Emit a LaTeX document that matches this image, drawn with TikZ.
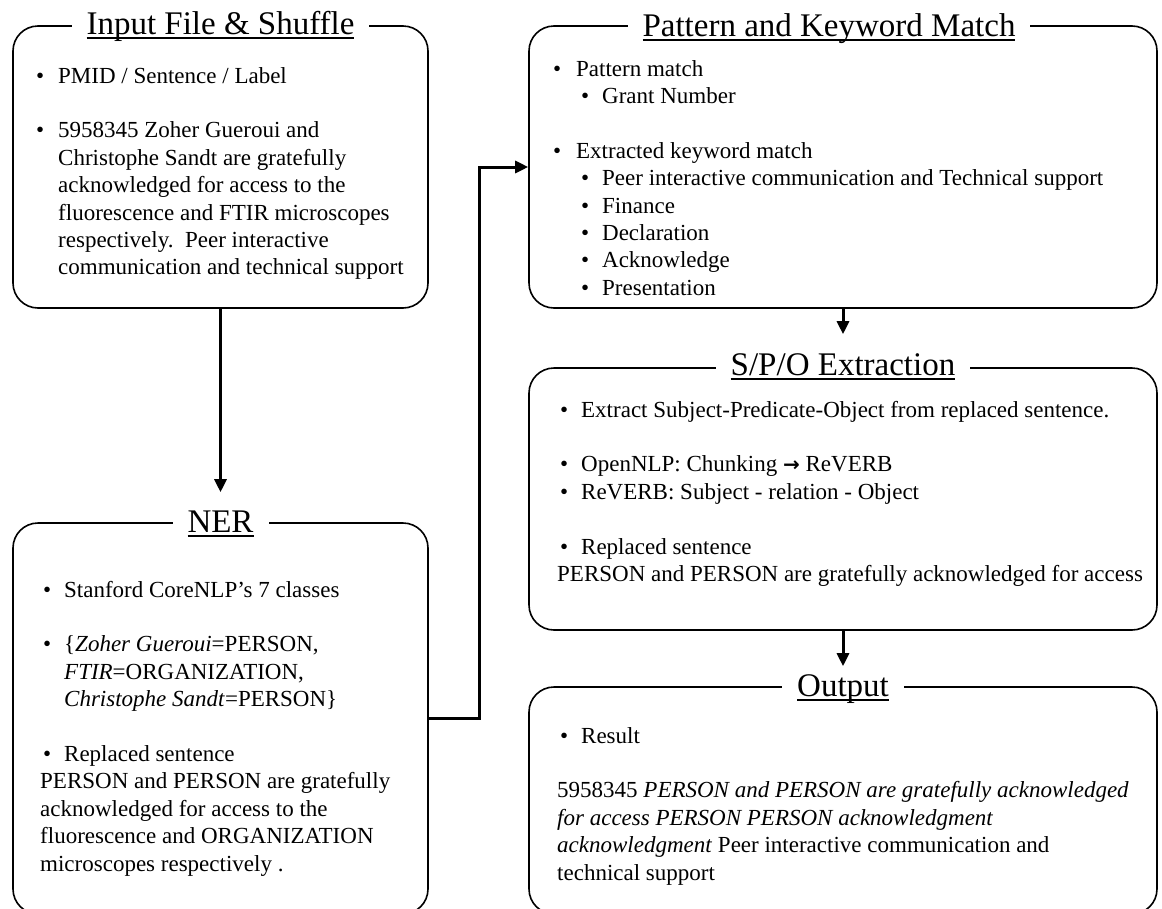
\documentclass[tikz,border=0pt]{standalone}
\usepackage{fontspec}
\setmainfont{Liberation Serif}
\newfontfamily\dvs{DejaVu Sans}
\usetikzlibrary{arrows.meta}
\newcommand\ulttl[1]{\setbox0=\hbox{#1}\rlap{\rule[-4.5pt]{\wd0}{1.6pt}}\box0}
\newcommand\bu[1]{\makebox[#1][l]{\textbullet}}
\newcommand\ind[1]{\hspace*{#1}}
\newcommand\bodytext[1]{\vtop{\hsize=700pt\parindent=0pt\parskip=0pt\leftskip=0pt\rightskip=0pt plus 1fil\fontsize{23}{27.4}\selectfont #1}}
\begin{document}
\begin{tikzpicture}[x=1pt,y=-1pt,
  box/.style={draw, line width=1.6pt, rounded corners=25pt, inner sep=0pt},
  ttl/.style={fill=white, inner xsep=15pt, inner ysep=2pt, anchor=base, font=\fontsize{33}{36}\selectfont},
  txt/.style={anchor=base west, inner sep=0pt},
  arr/.style={line width=3pt, -{Triangle[length=13pt,width=12pt]}}]
\useasboundingbox (0,0) rectangle (1162,908);
\clip (0,0) rectangle (1162,908);
% boxes
\node[box, minimum width=415pt, minimum height=282pt] (inp) at (220.5,167) {};
\node[box, minimum width=415pt, minimum height=391pt] (ner) at (220.5,718.5) {};
\node[box, minimum width=628pt, minimum height=282pt] (pat) at (843,167) {};
\node[box, minimum width=628pt, minimum height=262pt] (spo) at (843,499) {};
\node[box, minimum width=628pt, minimum height=227pt] (out) at (843,800.5) {};
% titles
\node[ttl] (inpt) at ([yshift=-9pt]inp.north) {\ulttl{Input File \& Shuffle}};
\node[ttl] (nert) at ([yshift=-10pt]ner.north) {\ulttl{NER}};
\node[ttl] (patt) at ([xshift=-14pt,yshift=-11pt]pat.north) {\ulttl{Pattern and Keyword Match}};
\node[ttl] (spot) at ([yshift=-8pt]spo.north) {\ulttl{S/P/O Extraction}};
\node[ttl] (outt) at ([yshift=-10pt]out.north) {\ulttl{Output}};
% body texts
\node[txt] (inpb) at (36,83) {\bodytext{%
\bu{22pt}PMID / Sentence / Label\par
\mbox{}\par
\bu{22pt}5958345 Zoher Gueroui and\par
\ind{22pt}Christophe Sandt are gratefully\par
\ind{22pt}acknowledged for access to the\par
\ind{22pt}fluorescence and FTIR microscopes\par
\ind{22pt}respectively.\ \ Peer interactive\par
\ind{22pt}communication and technical support}};
\node[txt] (nerb) at (40,597) {\bodytext{%
\ind{3pt}\bu{21pt}Stanford CoreNLP’s 7 classes\par
\mbox{}\par
\ind{3pt}\bu{21pt}\{\textit{Zoher Gueroui}=PERSON,\par
\ind{24pt}\textit{FTIR}=ORGANIZATION,\par
\ind{24pt}\textit{Christophe Sandt}=PERSON\}\par
\mbox{}\par
\ind{3pt}\bu{21pt}Replaced sentence\par
PERSON and PERSON are gratefully\par
acknowledged for access to the\par
fluorescence and ORGANIZATION\par
microscopes respectively .}};
\node[txt] (patb) at (553,76) {\bodytext{%
\bu{23pt}Pattern match\par
\ind{28pt}\bu{21pt}Grant Number\par
\mbox{}\par
\bu{23pt}Extracted keyword match\par
\ind{28pt}\bu{21pt}Peer interactive communication and Technical support\par
\ind{28pt}\bu{21pt}Finance\par
\ind{28pt}\bu{21pt}Declaration\par
\ind{28pt}\bu{21pt}Acknowledge\par
\ind{28pt}\bu{21pt}Presentation}};
\node[txt] (spob) at (557,417) {\bodytext{%
\ind{3pt}\bu{21pt}Extract Subject-Predicate-Object from replaced sentence.\par
\mbox{}\par
\ind{3pt}\bu{21pt}OpenNLP: Chunking {\dvs\bfseries\fontsize{20}{20}\selectfont →} ReVERB\par
\ind{3pt}\bu{21pt}ReVERB: Subject - relation - Object\par
\mbox{}\par
\ind{3pt}\bu{21pt}Replaced sentence\par
PERSON and PERSON are gratefully acknowledged for access}};
\node[txt] (outb) at (557,743) {\bodytext{%
\ind{3pt}\bu{21pt}Result\par
\mbox{}\par
5958345 \textit{PERSON and PERSON are gratefully acknowledged}\par
\textit{for access PERSON PERSON acknowledgment}\par
\textit{acknowledgment} Peer interactive communication and\par
technical support}};
% connectors
\draw[arr, shorten >=30pt] (inp.south) -- (ner.north);
\draw[arr, shorten >=33pt] (pat.south) -- (spo.north);
\draw[arr, shorten >=20pt] (spo.south) -- (out.north);
\draw[arr] (ner.east) -- ++(51,0) |- (pat.west);
\end{tikzpicture}
\end{document}
